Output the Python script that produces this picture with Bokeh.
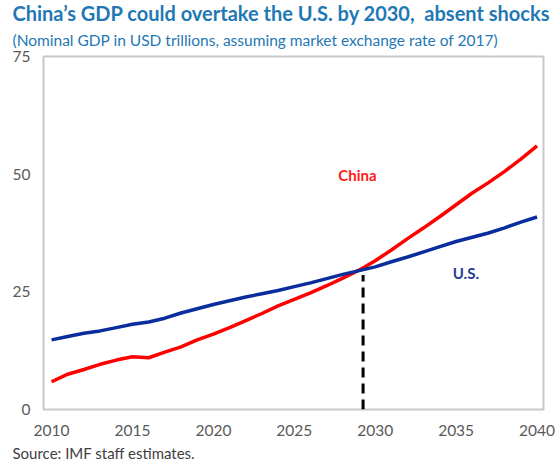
from bokeh.plotting import figure
from bokeh.models import Range1d, Label, FixedTicker, Title
from bokeh.embed import file_html
from bokeh.resources import INLINE

years = list(range(2010, 2041))
china = [5.9, 7.5, 8.5, 9.6, 10.5, 11.2, 11.0, 12.2, 13.3, 14.8,
         16.0, 17.4, 18.9, 20.4, 22.0, 23.4, 24.8, 26.3, 27.9, 29.6,
         31.6, 33.9, 36.3, 38.6, 41.0, 43.5, 46.0, 48.2, 50.6, 53.2, 56.0]
us = [14.8, 15.5, 16.2, 16.7, 17.4, 18.1, 18.6, 19.4, 20.5, 21.4,
      22.3, 23.1, 23.9, 24.6, 25.3, 26.1, 26.9, 27.8, 28.7, 29.5,
      30.3, 31.4, 32.4, 33.5, 34.6, 35.7, 36.6, 37.5, 38.6, 39.8, 40.9]
x_ticks = [2010, 2015, 2020, 2025, 2030, 2035, 2040]
y_ticks = [0, 25, 50, 75]
crossover_year = 2029.25
crossover_value = 28.6

title_text = "China\u2019s GDP could overtake the U.S. by 2030,\u00a0 absent shocks"
subtitle_text = "(Nominal GDP in USD trillions, assuming market exchange rate of 2017)"
source_text = "Source: IMF staff estimates."

W, H = 556, 465
FL, FR, FT, FB = 43, 543, 56, 409
p = figure(width=W, height=H, output_backend="svg", toolbar_location=None,
           x_range=Range1d(2009.5, 2040.4), y_range=Range1d(0, 75),
           min_border_left=FL, min_border_right=W - FR, min_border_top=FT,
           min_border_bottom=H - FB)
p.title = None
p.background_fill_color = "white"
p.border_fill_color = "white"
p.outline_line_color = "#c8c8c8"
p.outline_line_width = 2
p.xgrid.visible = False
p.ygrid.visible = False

for ax in (p.xaxis[0], p.yaxis[0]):
    ax.axis_line_color = None
    ax.major_tick_line_color = None
    ax.minor_tick_line_color = None
    ax.major_tick_in = 0
    ax.major_tick_out = 0
    ax.major_label_text_color = "#595959"
    ax.major_label_text_font = "Lato"
    ax.major_label_text_font_size = "15.5px"
p.xaxis[0].ticker = FixedTicker(ticks=x_ticks)
p.yaxis[0].ticker = FixedTicker(ticks=y_ticks)
p.xaxis[0].major_label_standoff = 15
p.yaxis[0].major_label_standoff = 13

p.line(years, china, line_color="#ff0000", line_width=3.5)
p.line(years, us, line_color="#0a2d9e", line_width=3.5)
p.segment(x0=[crossover_year], y0=[0], x1=[crossover_year], y1=[crossover_value],
          line_color="black", line_width=3, line_dash="10 6")

p.add_layout(Label(x=2028.9, y=49.8, text="China", text_color="#ff1a1a",
                   text_font="Lato", text_font_style="bold", text_font_size="15px",
                   text_align="center", text_baseline="middle"))
p.add_layout(Label(x=2035.6, y=29.0, text="U.S.", text_color="#1f3c99",
                   text_font="Lato", text_font_style="bold", text_font_size="15px",
                   text_align="center", text_baseline="middle"))

# subtitle first (nearest to the frame), then the main title
p.add_layout(Title(text=subtitle_text, align="left", offset=12 - FL, standoff=16,
                   text_color="#1f78b4", text_font="Lato", text_font_style="normal",
                   text_font_size="15.5px"), "above")
p.add_layout(Title(text=title_text, align="left", offset=12 - FL, standoff=-9,
                   text_color="#1f78b4", text_font="Lato", text_font_style="bold",
                   text_font_size="20px"), "above")
p.add_layout(Title(text=source_text, align="left", offset=12 - FL, standoff=6,
                   text_color="#404040", text_font="Lato", text_font_style="normal",
                   text_font_size="15px"), "below")

open("out.html", "w").write(file_html(p, INLINE))
